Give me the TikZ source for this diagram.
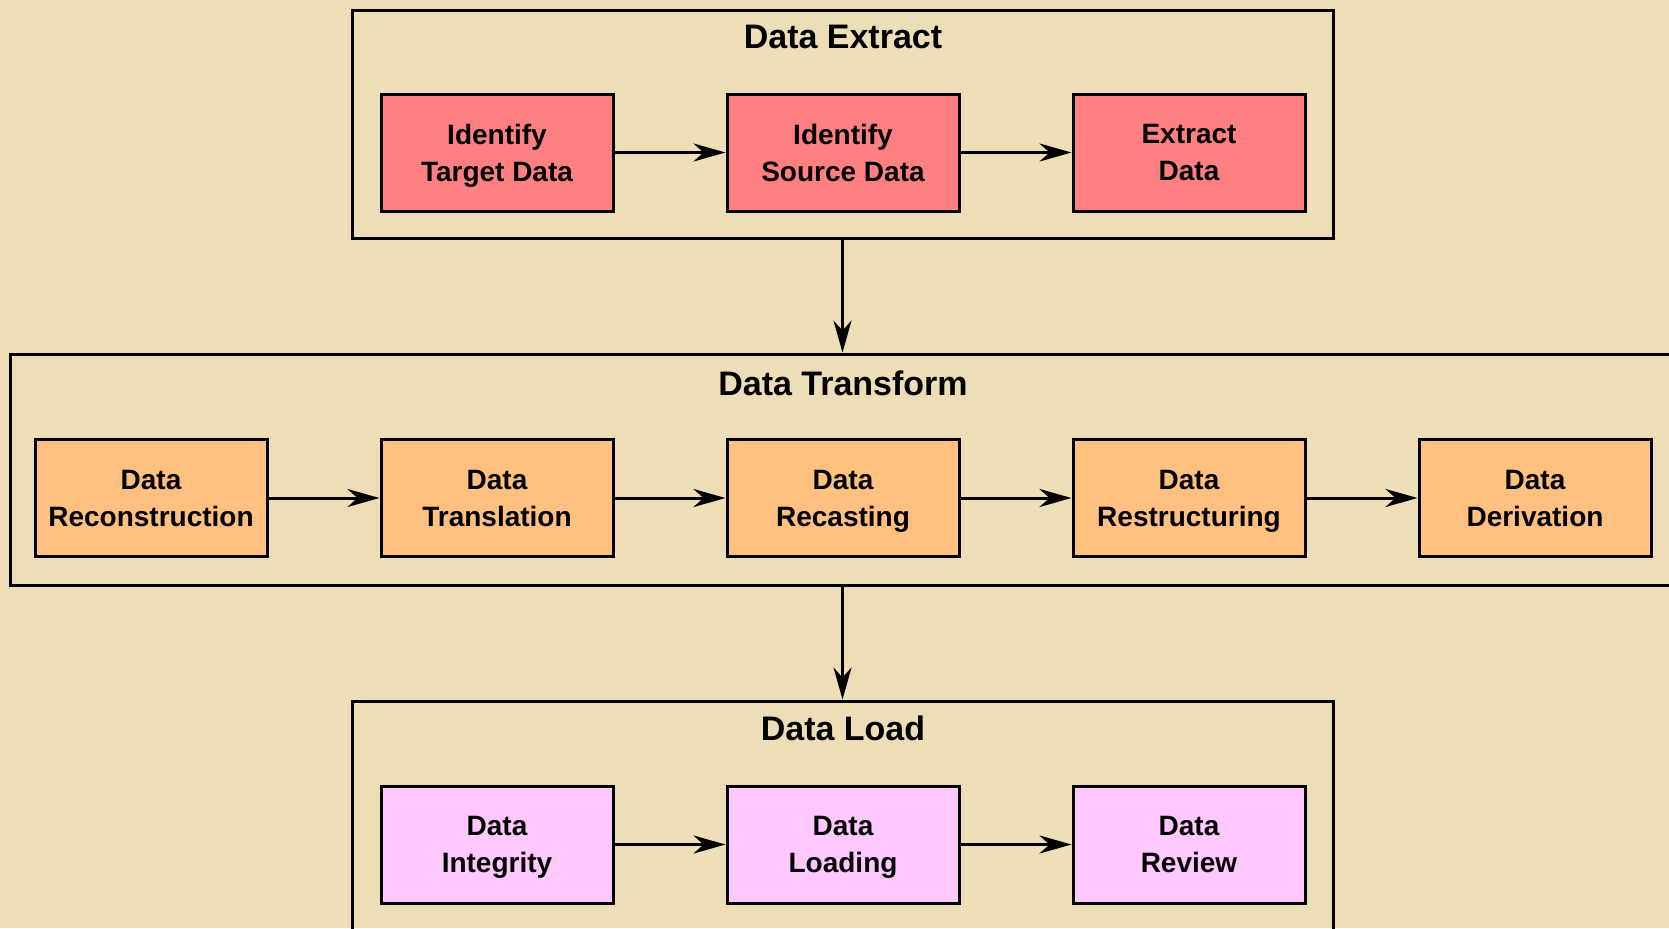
\documentclass[tikz,border=0pt]{standalone}
\usepackage{fontspec}
\setmainfont{Liberation Sans}
\usetikzlibrary{arrows.meta}
\definecolor{paper}{RGB}{238,222,184}
\definecolor{extractred}{RGB}{255,128,128}
\definecolor{transformorange}{RGB}{255,192,128}
\definecolor{loadpink}{RGB}{255,200,255}

\begin{document}
\begin{tikzpicture}[x=0.5pt, y=-0.5pt,
    frame/.style={draw, line width=1.5pt, inner sep=0pt},
    taskbox/.style={draw, line width=1.5pt, minimum width=116pt, minimum height=58.5pt,
        inner sep=0pt, align=center, text depth=0pt, font=\fontsize{14}{18.5}\selectfont\bfseries},
    title/.style={font=\fontsize{17}{20}\selectfont\bfseries},
    flow/.style={line width=1.5pt, -{Stealth[length=16pt, width=9pt, inset=5pt]}}]
    \fill[paper] (0,0) rectangle (1669,928);
    \useasboundingbox (0,0) rectangle (1669,928);
    % Frames
    \node[frame, minimum width=490.5pt, minimum height=114pt] (ExtractFrame) at (842.5,124) {};
    \node[frame, minimum width=835pt, minimum height=115.5pt] (TransformFrame) at (845,469.5) {};
    \node[frame, minimum width=490.5pt, minimum height=122pt] (LoadFrame) at (842.5,823) {};
    \node[title] (ExtractTitle) at (843,37) {Data Extract};
    \node[title] (TransformTitle) at (843,383) {Data Transform};
    \node[title] (LoadTitle) at (843,728) {Data Load};
    % Data Extract
    \foreach \name/\i in {Identify\\Target Data/1,Identify\\Source Data/2,Extract\\Data/3} {
        \node[taskbox, fill=extractred] (Extract-\i) at ({497+346*(\i-1)},152.5) {\name};
    }
    % Data Transform
    \foreach \name/\i in {Data\\Reconstruction/1,Data\\Translation/2,Data\\Recasting/3,Data\\Restructuring/4,Data\\Derivation/5} {
        \node[taskbox, fill=transformorange] (Transform-\i) at ({151+346*(\i-1)},498) {\name};
    }
    % Data Load
    \foreach \name/\i in {Data\\Integrity/1,Data\\Loading/2,Data\\Review/3} {
        \node[taskbox, fill=loadpink] (Load-\i) at ({497+346*(\i-1)},844.5) {\name};
    }
    % Arrows
    \foreach \i/\j in {1/2,2/3} {
        \draw[flow] (Extract-\i) -- (Extract-\j);
        \draw[flow] (Load-\i) -- (Load-\j);
    }
    \foreach \i/\j in {1/2,2/3,3/4,4/5} {
        \draw[flow] (Transform-\i) -- (Transform-\j);
    }
    \coordinate (TransformOut) at (ExtractFrame.south |- TransformFrame.south);
    \draw[flow] (ExtractFrame.south) -- (ExtractFrame.south |- TransformFrame.north);
    \draw[flow] (TransformOut) -- (LoadFrame.north);
\end{tikzpicture}
\end{document}
